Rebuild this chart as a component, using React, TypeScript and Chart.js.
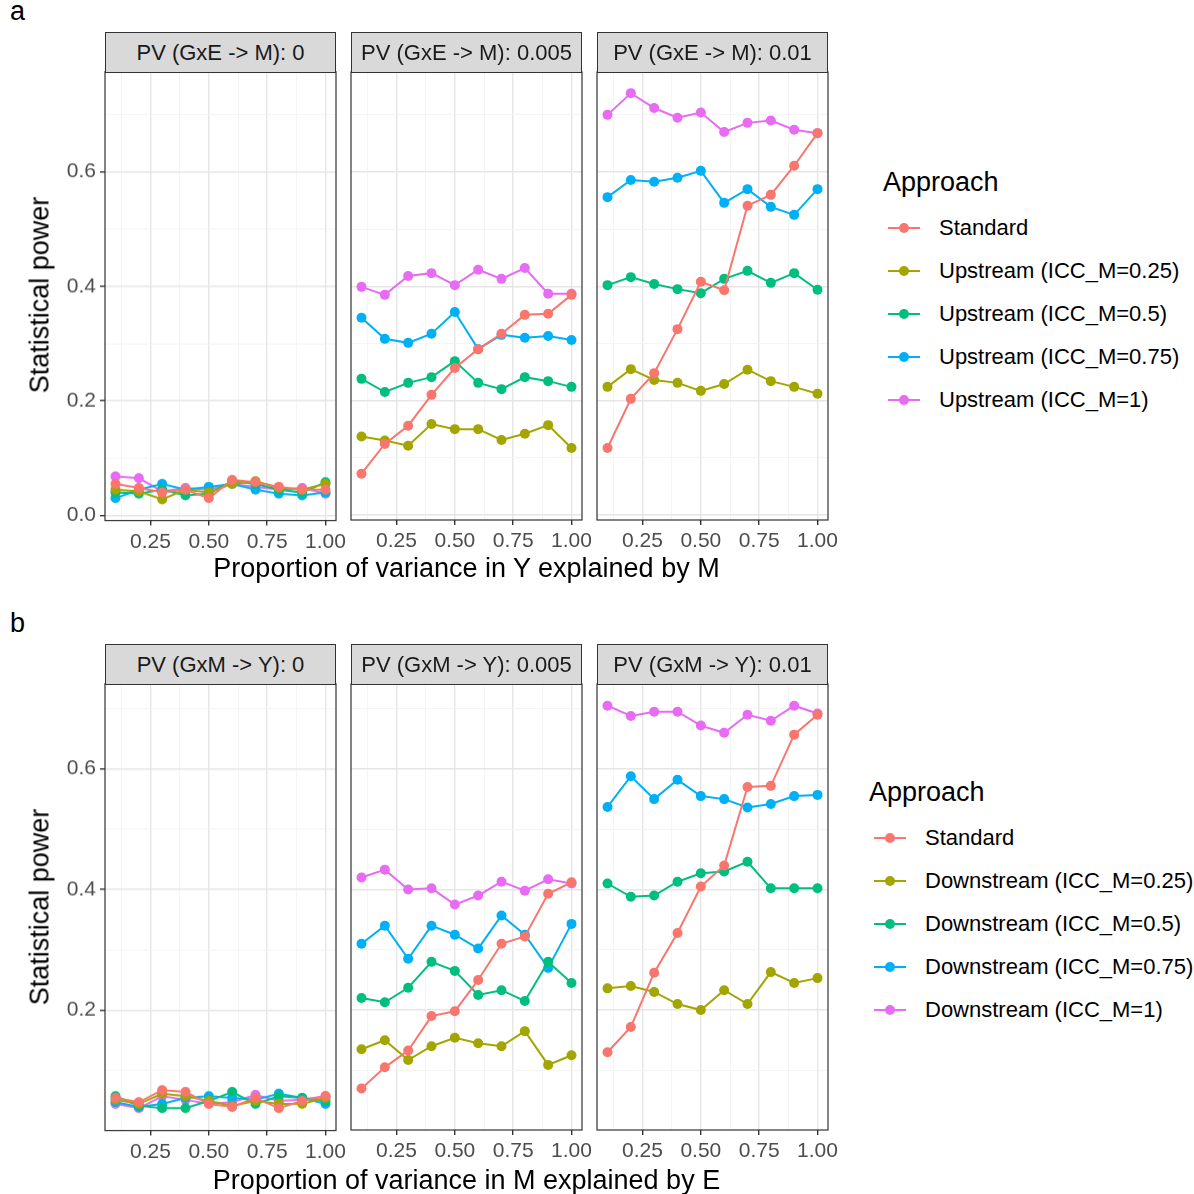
import React, { useEffect, useRef } from "react";
import { Chart, registerables } from "chart.js";
Chart.register(...registerables);

const xs = [0.1, 0.2, 0.3, 0.4, 0.5, 0.6, 0.7, 0.8, 0.9, 1.0];
const colors = ["#F8766D", "#A3A500", "#00BF7D", "#00B0F6", "#E76BF3"];

const upLabels = ["Standard", "Upstream (ICC_M=0.25)", "Upstream (ICC_M=0.5)", "Upstream (ICC_M=0.75)", "Upstream (ICC_M=1)"];
const downLabels = ["Standard", "Downstream (ICC_M=0.25)", "Downstream (ICC_M=0.5)", "Downstream (ICC_M=0.75)", "Downstream (ICC_M=1)"];

const stripA = ["PV (GxE -> M): 0", "PV (GxE -> M): 0.005", "PV (GxE -> M): 0.01"];
const stripB = ["PV (GxM -> Y): 0", "PV (GxM -> Y): 0.005", "PV (GxM -> Y): 0.01"];

// panel a (upstream)
const a1 = [
  [0.055, 0.048, 0.040, 0.045, 0.030, 0.062, 0.058, 0.050, 0.045, 0.045],
  [0.045, 0.042, 0.028, 0.045, 0.040, 0.055, 0.060, 0.048, 0.045, 0.055],
  [0.040, 0.038, 0.045, 0.035, 0.038, 0.060, 0.055, 0.045, 0.040, 0.058],
  [0.030, 0.045, 0.055, 0.045, 0.050, 0.055, 0.045, 0.038, 0.035, 0.040],
  [0.068, 0.065, 0.042, 0.048, 0.045, 0.055, 0.050, 0.045, 0.048, 0.038],
];
const a2 = [
  [0.072, 0.124, 0.156, 0.210, 0.257, 0.290, 0.317, 0.350, 0.352, 0.385],
  [0.137, 0.130, 0.121, 0.159, 0.150, 0.150, 0.131, 0.142, 0.157, 0.117],
  [0.238, 0.215, 0.231, 0.241, 0.269, 0.231, 0.220, 0.241, 0.234, 0.224],
  [0.345, 0.308, 0.301, 0.317, 0.355, 0.290, 0.315, 0.310, 0.313, 0.306],
  [0.399, 0.385, 0.418, 0.423, 0.402, 0.429, 0.413, 0.432, 0.387, 0.387],
];
const a3 = [
  [0.117, 0.203, 0.248, 0.325, 0.408, 0.393, 0.541, 0.560, 0.611, 0.668],
  [0.224, 0.255, 0.236, 0.231, 0.217, 0.229, 0.254, 0.234, 0.224, 0.212],
  [0.402, 0.416, 0.404, 0.395, 0.388, 0.413, 0.427, 0.406, 0.423, 0.394],
  [0.556, 0.586, 0.583, 0.590, 0.602, 0.546, 0.570, 0.539, 0.525, 0.570],
  [0.700, 0.738, 0.712, 0.695, 0.704, 0.670, 0.686, 0.690, 0.674, 0.668],
];
// panel b (downstream)
const b1 = [
  [0.055, 0.048, 0.068, 0.065, 0.045, 0.040, 0.055, 0.038, 0.050, 0.058],
  [0.052, 0.045, 0.062, 0.058, 0.050, 0.042, 0.050, 0.045, 0.045, 0.055],
  [0.058, 0.042, 0.038, 0.038, 0.050, 0.065, 0.045, 0.058, 0.055, 0.050],
  [0.048, 0.040, 0.045, 0.055, 0.058, 0.055, 0.052, 0.062, 0.055, 0.045],
  [0.045, 0.038, 0.058, 0.052, 0.045, 0.048, 0.060, 0.050, 0.052, 0.058],
];
const b2 = [
  [0.070, 0.105, 0.133, 0.190, 0.198, 0.250, 0.310, 0.322, 0.393, 0.412],
  [0.135, 0.150, 0.117, 0.140, 0.154, 0.145, 0.140, 0.165, 0.109, 0.125],
  [0.220, 0.213, 0.237, 0.280, 0.265, 0.225, 0.233, 0.215, 0.280, 0.245],
  [0.310, 0.340, 0.285, 0.340, 0.325, 0.302, 0.357, 0.325, 0.270, 0.343],
  [0.420, 0.433, 0.400, 0.402, 0.375, 0.390, 0.413, 0.398, 0.417, 0.410],
];
const b3 = [
  [0.130, 0.172, 0.262, 0.328, 0.405, 0.440, 0.570, 0.572, 0.657, 0.690],
  [0.236, 0.240, 0.230, 0.210, 0.200, 0.233, 0.210, 0.263, 0.245, 0.253],
  [0.410, 0.388, 0.390, 0.413, 0.427, 0.430, 0.446, 0.402, 0.402, 0.402],
  [0.537, 0.588, 0.550, 0.582, 0.555, 0.550, 0.536, 0.542, 0.555, 0.557],
  [0.705, 0.688, 0.695, 0.695, 0.672, 0.660, 0.690, 0.680, 0.705, 0.692],
];

const xMajor = [0.25, 0.5, 0.75, 1.0];
const xMinor = [0.125, 0.375, 0.625, 0.875];
const yMajor = [0, 0.2, 0.4, 0.6];
const yMinor = [0.1, 0.3, 0.5, 0.7];

const FONT = "Arial, 'Liberation Sans', sans-serif";
const YW = 62;
const XH = 48;
const PADR = 30;

function Panel(props: { left: number; top: number; w: number; h: number; series: number[][]; labels: string[]; ymin: number; ymax: number; showY: boolean }) {
  const ref = useRef<HTMLCanvasElement>(null);
  const { left, top, w, h, series, labels, ymin, ymax, showY } = props;
  const cw0 = w + (showY ? YW : 0) + PADR;
  const ch0 = h + XH + 20;
  useEffect(() => {
    const isMajor = (v: number, maj: number[]) => maj.some((m) => Math.abs(m - v) < 1e-6);
    const border = {
      id: "border",
      afterDraw(c: any) {
        const a = c.chartArea;
        const ctx = c.ctx;
        ctx.save();
        ctx.strokeStyle = "#333333";
        ctx.lineWidth = 1.2;
        ctx.strokeRect(a.left, a.top, a.right - a.left, a.bottom - a.top);
        ctx.restore();
      },
    };
    const canvas = ref.current!;
    const chart = new Chart(canvas, {
      type: "line",
      data: {
        datasets: series.map((s, i) => ({
          label: labels[i],
          data: s.map((v, j) => ({ x: xs[j], y: v })),
          borderColor: colors[i],
          backgroundColor: colors[i],
          pointRadius: 5,
          pointBorderWidth: 0,
          borderWidth: 2,
          tension: 0,
        })),
      },
      options: {
        animation: false,
        responsive: false,
        maintainAspectRatio: false,
        layout: { padding: { right: PADR, top: 12, left: 0, bottom: 0 } },
        plugins: { legend: { display: false }, tooltip: { enabled: false } },
        scales: {
          x: {
            type: "linear",
            min: 0.055,
            max: 1.045,
            afterBuildTicks: (sc: any) => {
              sc.ticks = [...xMajor, ...xMinor].sort((p, q) => p - q).map((v) => ({ value: v }));
            },
            afterFit: (sc: any) => { sc.height = XH; },
            ticks: {
              font: { family: FONT, size: 21 },
              color: "#4d4d4d",
              padding: 4,
              maxRotation: 0,
              autoSkip: false,
              callback: (v: any) => (isMajor(v, xMajor) ? Number(v).toFixed(2) : ""),
            },
            grid: {
              color: (c: any) => (isMajor(c.tick.value, xMajor) ? "#e6e6e6" : "#f3f3f3"),
              lineWidth: (c: any) => (isMajor(c.tick.value, xMajor) ? 1.4 : 0.8),
              tickColor: (c: any) => (isMajor(c.tick.value, xMajor) ? "#333333" : "rgba(0,0,0,0)"),
              tickLength: 5,
            },
            border: { display: false },
          },
          y: {
            type: "linear",
            min: ymin,
            max: ymax,
            afterBuildTicks: (sc: any) => {
              sc.ticks = [...yMajor, ...yMinor].filter((v) => v >= ymin && v <= ymax).sort((p, q) => p - q).map((v) => ({ value: v }));
            },
            afterFit: (sc: any) => { sc.width = showY ? YW : 0; },
            ticks: {
              display: showY,
              font: { family: FONT, size: 21 },
              color: "#4d4d4d",
              padding: 4,
              autoSkip: false,
              callback: (v: any) => (isMajor(v, yMajor) ? Number(v).toFixed(1) : ""),
            },
            grid: {
              color: (c: any) => (isMajor(c.tick.value, yMajor) ? "#e6e6e6" : "#f3f3f3"),
              lineWidth: (c: any) => (isMajor(c.tick.value, yMajor) ? 1.4 : 0.8),
              tickColor: (c: any) => (showY && isMajor(c.tick.value, yMajor) ? "#333333" : "rgba(0,0,0,0)"),
              tickLength: showY ? 5 : 0,
              drawTicks: showY,
            },
            border: { display: false },
          },
        },
      },
      plugins: [border],
    } as any);
    for (let k = 0; k < 2; k++) {
      const a = chart.chartArea;
      const cw = chart.width + (w - (a.right - a.left));
      const ch = chart.height + (h - (a.bottom - a.top));
      chart.resize(cw, ch);
    }
    const a = chart.chartArea;
    canvas.style.left = left - a.left + "px";
    canvas.style.top = top - a.top + "px";
    return () => chart.destroy();
  }, []);
  return (
    <canvas
      ref={ref}
      width={cw0}
      height={ch0}
      style={{ position: "absolute", left: left - (showY ? YW : 0), top, width: cw0, height: ch0 }}
    />
  );
}

function Strip(props: { left: number; top: number; w: number; text: string }) {
  return (
    <div
      style={{
        position: "absolute", left: props.left, top: props.top, width: props.w, height: 41,
        background: "#d9d9d9", border: "1.2px solid #333333", boxSizing: "border-box",
        display: "flex", alignItems: "center", justifyContent: "center",
        fontFamily: FONT, fontSize: 22, color: "#1a1a1a", whiteSpace: "nowrap",
      }}
    >
      {props.text}
    </div>
  );
}

function Legend(props: { left: number; top: number; labels: string[]; textLeft: number }) {
  return (
    <div style={{ position: "absolute", left: props.left, top: props.top, fontFamily: FONT }}>
      <div style={{ fontSize: 27, color: "#000", height: 32, lineHeight: "32px" }}>Approach</div>
      {props.labels.map((l, i) => (
        <div key={i} style={{ position: "absolute", top: 48 + i * 43, left: 0, width: 400, height: 28 }}>
          <div style={{ position: "absolute", left: 5, top: 13, width: 32, height: 2, background: colors[i] }} />
          <div style={{ position: "absolute", left: 16, top: 9, width: 10, height: 10, borderRadius: 5, background: colors[i] }} />
          <div style={{ position: "absolute", left: props.textLeft, top: 0, fontSize: 22, lineHeight: "28px", color: "#000", whiteSpace: "nowrap" }}>{l}</div>
        </div>
      ))}
    </div>
  );
}

const panelXs = [105, 351, 597];
const PW = 231;

function Figure(props: { top: number; letter: string; strips: string[]; data: number[][][]; labels: string[]; ymin: number; ymax: number; ph: number; xTitle: string; legendLeft: number; legendTop: number; legendTextLeft: number }) {
  const { top } = props;
  const plotTop = top + 40;
  return (
    <>
      <div style={{ position: "absolute", left: 10, top: top - 36, fontFamily: FONT, fontSize: 27 }}>{props.letter}</div>
      {panelXs.map((x, i) => (
        <Panel key={"p" + i} left={x} top={plotTop} w={PW} h={props.ph} series={props.data[i]} labels={props.labels} ymin={props.ymin} ymax={props.ymax} showY={i === 0} />
      ))}
      {panelXs.map((x, i) => (
        <Strip key={"s" + i} left={x} top={top} w={PW} text={props.strips[i]} />
      ))}
      <div style={{ position: "absolute", left: 105, width: 723, top: plotTop + 480, textAlign: "center", fontFamily: FONT, fontSize: 27, color: "#000", lineHeight: "32px" }}>{props.xTitle}</div>
      <div style={{ position: "absolute", left: 40, top: plotTop + 223, width: 0, height: 0 }}>
        <div style={{ position: "absolute", transform: "translate(-50%,-50%) rotate(-90deg)", whiteSpace: "nowrap", fontFamily: FONT, fontSize: 27, color: "#000" }}>Statistical power</div>
      </div>
      <Legend left={props.legendLeft} top={props.legendTop} labels={props.labels} textLeft={props.legendTextLeft} />
    </>
  );
}

export default function App() {
  return (
    <div style={{ position: "fixed", left: 0, top: 0, width: 1194, height: 1194, background: "#fff", overflow: "hidden" }}>
      <Figure top={32} letter="a" strips={stripA} data={[a1, a2, a3]} labels={upLabels} ymin={-0.009} ymax={0.775} ph={448} xTitle="Proportion of variance in Y explained by M" legendLeft={883} legendTop={166} legendTextLeft={56} />
      <Figure top={644} letter="b" strips={stripB} data={[b1, b2, b3]} labels={downLabels} ymin={0.001} ymax={0.741} ph={446} xTitle="Proportion of variance in M explained by E" legendLeft={869} legendTop={776} legendTextLeft={56} />
    </div>
  );
}
